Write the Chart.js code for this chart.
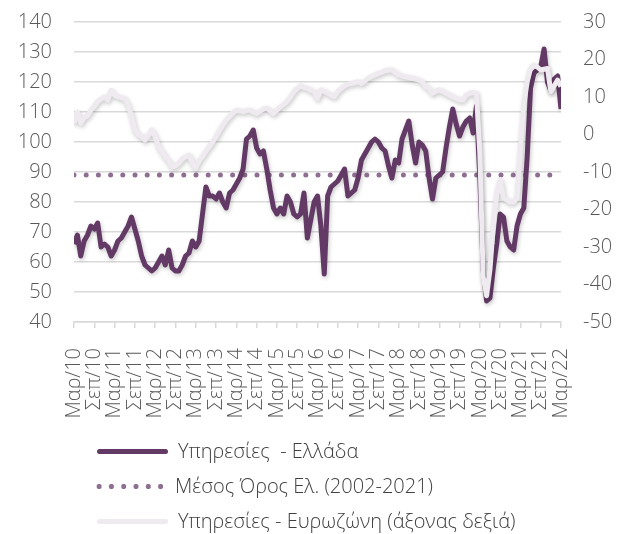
<!DOCTYPE html>
<html>
<head>
<meta charset="utf-8">
<script src="https://cdn.jsdelivr.net/npm/chart.js@4/dist/chart.umd.min.js"></script>
<style>
  html, body { margin: 0; padding: 0; background: #ffffff; }
  #wrap { position: relative; width: 623px; height: 534px; overflow: hidden; }
  #c { position: absolute; left: 0; top: 0; }
  .row { position: absolute; left: 0; height: 24px; width: 623px; }
  .sample { position: absolute; left: 97px; top: 9.5px; width: 71px; height: 5px; border-radius: 3px; }
  .txt { position: absolute; top: 0; line-height: 24px; font-family: 'Open Sans', sans-serif; font-weight: 300; font-size: 20px; color: #404040; white-space: pre; }
</style>
</head>
<body>
<div id="wrap">
  <canvas id="c" width="623" height="534"></canvas>
  <div id="legend"></div>
</div>
<script>
// ---- data ----
const seriesNames = ['Υπηρεσίες  - Ελλάδα', 'Μέσος Όρος Ελ. (2002-2021)', 'Υπηρεσίες - Ευρωζώνη (άξονας δεξιά)'];

const tickLabels = ['Μαρ/10','Σεπ/10','Μαρ/11','Σεπ/11','Μαρ/12','Σεπ/12','Μαρ/13','Σεπ/13','Μαρ/14','Σεπ/14',
  'Μαρ/15','Σεπ/15','Μαρ/16','Σεπ/16','Μαρ/17','Σεπ/17','Μαρ/18','Σεπ/18','Μαρ/19','Σεπ/19',
  'Μαρ/20','Σεπ/20','Μαρ/21','Σεπ/21','Μαρ/22'];

// monthly, Mar 2010 .. Mar 2022
const greece = [
  66,69,62,67,69,72,71,73,65,66,65,62,
  64,67,68,70,72,75,71,67,62,59,58,57,
  58,60,62,59,64,58,57,57,59,62,63,67,
  65,67,76,85,82,82,81,83,80,78,83,84,
  86,88,91,101,102,104,98,96,97,91,84,78,
  76,78,76,82,80,76,75,76,83,68,74,80,
  82,72,56,82,85,86,87,89,91,82,83,84,
  88,94,96,98,100,101,100,98,97,92,88,94,
  93,101,104,107,99,93,100,99,97,88,81,88,
  89,90,98,105,111,106,102,105,107,108,103,112,
  88,57,47,48,58,66,76,75,67,65,64,72,
  76,78,95,118,123,124,125,131,120,117,121,122,
  111
];

const eurozone = [
  3,6,3,4.5,5,6.5,7.5,8.8,9.5,10,9.2,11.8,
  10.5,10.1,9.8,9.6,7.8,5,1.2,0,-0.5,-1.5,-0.3,1.2,
  -0.5,-3.2,-4.5,-5.9,-7,-8.6,-8.4,-7.7,-6.5,-5.9,-5.5,-7.5,
  -9,-7,-5.9,-4.5,-3.2,-2,-0.6,1,2.5,3.8,4.8,5.8,
  6.5,6.3,6.1,6.4,6.5,6,5.6,6.2,6.8,7,6.3,5.6,
  6.5,7.4,8,8.8,10,11.4,12.3,13,12.5,12.3,11.8,11.4,
  9.6,11.9,11.5,11,10.5,10.1,11.5,12.3,13,13.4,13.6,13.8,
  14.1,13.6,14.2,15,15.5,15.9,16.3,16.6,17,17.2,17.2,16.5,
  15.9,15.6,15.4,15.2,15,14.8,14.5,14,12.8,12.3,11,11.5,
  11.9,11.5,11,10.5,10.1,9.6,9.2,9.2,10.5,11,11.2,11,
  -5,-38,-43,-36,-24,-16,-12,-17,-17.5,-18,-18,-17,
  -4,8,14,17.6,18.5,18,17.2,17.4,17.6,11.4,13,14.5,
  12.8
];

const greeceAverage = 89;

// ---- styles ----
const colGreece = '#633a66';
const colMean = '#8f6f91';
const colEuro = '#eeeaef';
const gridCol = '#d9d9d9';
const tickFont = { family: "'Open Sans', sans-serif", size: 20, weight: 300 };
const tickCol = '#595959';

const shadowPlugin = {
  id: 'lineShadow',
  beforeDatasetDraw(chart, args) {
    if (args.index === 1) return;
    const c = chart.ctx;
    c.save();
    c.shadowColor = 'rgba(0,0,0,0.22)';
    c.shadowBlur = 4;
    c.shadowOffsetX = 1;
    c.shadowOffsetY = 2;
  },
  afterDatasetDraw(chart, args) {
    if (args.index === 1) return;
    chart.ctx.restore();
  }
};

const lastIdx = greece.length - 1;
const noPad = (s) => { s.paddingTop = 0; s.paddingBottom = 0; s.paddingLeft = 0; s.paddingRight = 0; };

new Chart(document.getElementById('c'), {
  type: 'line',
  data: {
    datasets: [
      {
        label: seriesNames[0],
        data: greece.map((v, i) => ({ x: i, y: v })),
        yAxisID: 'y',
        borderColor: colGreece,
        backgroundColor: colGreece,
        borderWidth: 5,
        pointRadius: 0,
        tension: 0,
        borderJoinStyle: 'round',
        order: 1
      },
      {
        label: seriesNames[1],
        data: [{ x: 0, y: greeceAverage }, { x: lastIdx, y: greeceAverage }],
        yAxisID: 'y',
        borderColor: colMean,
        backgroundColor: colMean,
        borderWidth: 5,
        borderDash: [0, 12.2],
        borderCapStyle: 'round',
        pointRadius: 0,
        order: 2
      },
      {
        label: seriesNames[2],
        data: eurozone.map((v, i) => ({ x: i, y: v })),
        yAxisID: 'y2',
        borderColor: colEuro,
        backgroundColor: colEuro,
        borderWidth: 5,
        pointRadius: 0,
        tension: 0,
        borderJoinStyle: 'round',
        order: 0
      }
    ]
  },
  options: {
    responsive: false,
    animation: false,
    layout: { padding: { top: 22, left: 0, right: 0, bottom: 0 } },
    plugins: { legend: { display: false }, tooltip: { enabled: false } },
    scales: {
      x: {
        type: 'linear',
        min: 0,
        max: lastIdx,
        ticks: {
          stepSize: 6,
          autoSkip: false,
          minRotation: 90,
          maxRotation: 90,
          padding: 20,
          font: tickFont,
          color: tickCol,
          callback: (v) => tickLabels[Math.round(v / 6)]
        },
        grid: { drawOnChartArea: false, drawTicks: true, tickLength: 6, color: gridCol, lineWidth: 1.5 },
        border: { display: true, color: gridCol, width: 1.5 },
        afterFit: (s) => { noPad(s); s.height = 212; }
      },
      y: {
        position: 'left',
        min: 40,
        max: 140,
        ticks: { stepSize: 10, padding: 22, font: tickFont, color: tickCol },
        grid: { color: gridCol, lineWidth: 1.5, drawTicks: false },
        border: { display: false },
        afterFit: (s) => { noPad(s); s.width = 74; }
      },
      y2: {
        position: 'right',
        min: -50,
        max: 30,
        ticks: { stepSize: 10, padding: 22, font: tickFont, color: tickCol },
        grid: { drawOnChartArea: false, drawTicks: false },
        border: { display: false },
        afterFit: (s) => { noPad(s); s.width = 62; }
      }
    }
  },
  plugins: [shadowPlugin]
});

// ---- legend (HTML, real text) ----
const legendRows = [
  { top: 439, text: seriesNames[0], textLeft: 178, style: 'background:' + colGreece + ';' },
  { top: 474, text: seriesNames[1], textLeft: 175, style: 'left:93px;width:74px;border-radius:0;background:radial-gradient(circle at 6.1px 2.5px,' + colMean + ' 2.4px, transparent 2.9px) 0 0/12.3px 5px repeat-x;' },
  { top: 509, text: seriesNames[2], textLeft: 178, style: 'background:' + colEuro + ';' }
];
const lg = document.getElementById('legend');
legendRows.forEach(r => {
  const row = document.createElement('div');
  row.className = 'row';
  row.style.top = r.top + 'px';
  const s = document.createElement('div');
  s.className = 'sample';
  s.setAttribute('style', r.style);
  const t = document.createElement('div');
  t.className = 'txt';
  t.style.left = r.textLeft + 'px';
  t.textContent = r.text;
  row.appendChild(s);
  row.appendChild(t);
  lg.appendChild(row);
});
</script>
</body>
</html>
